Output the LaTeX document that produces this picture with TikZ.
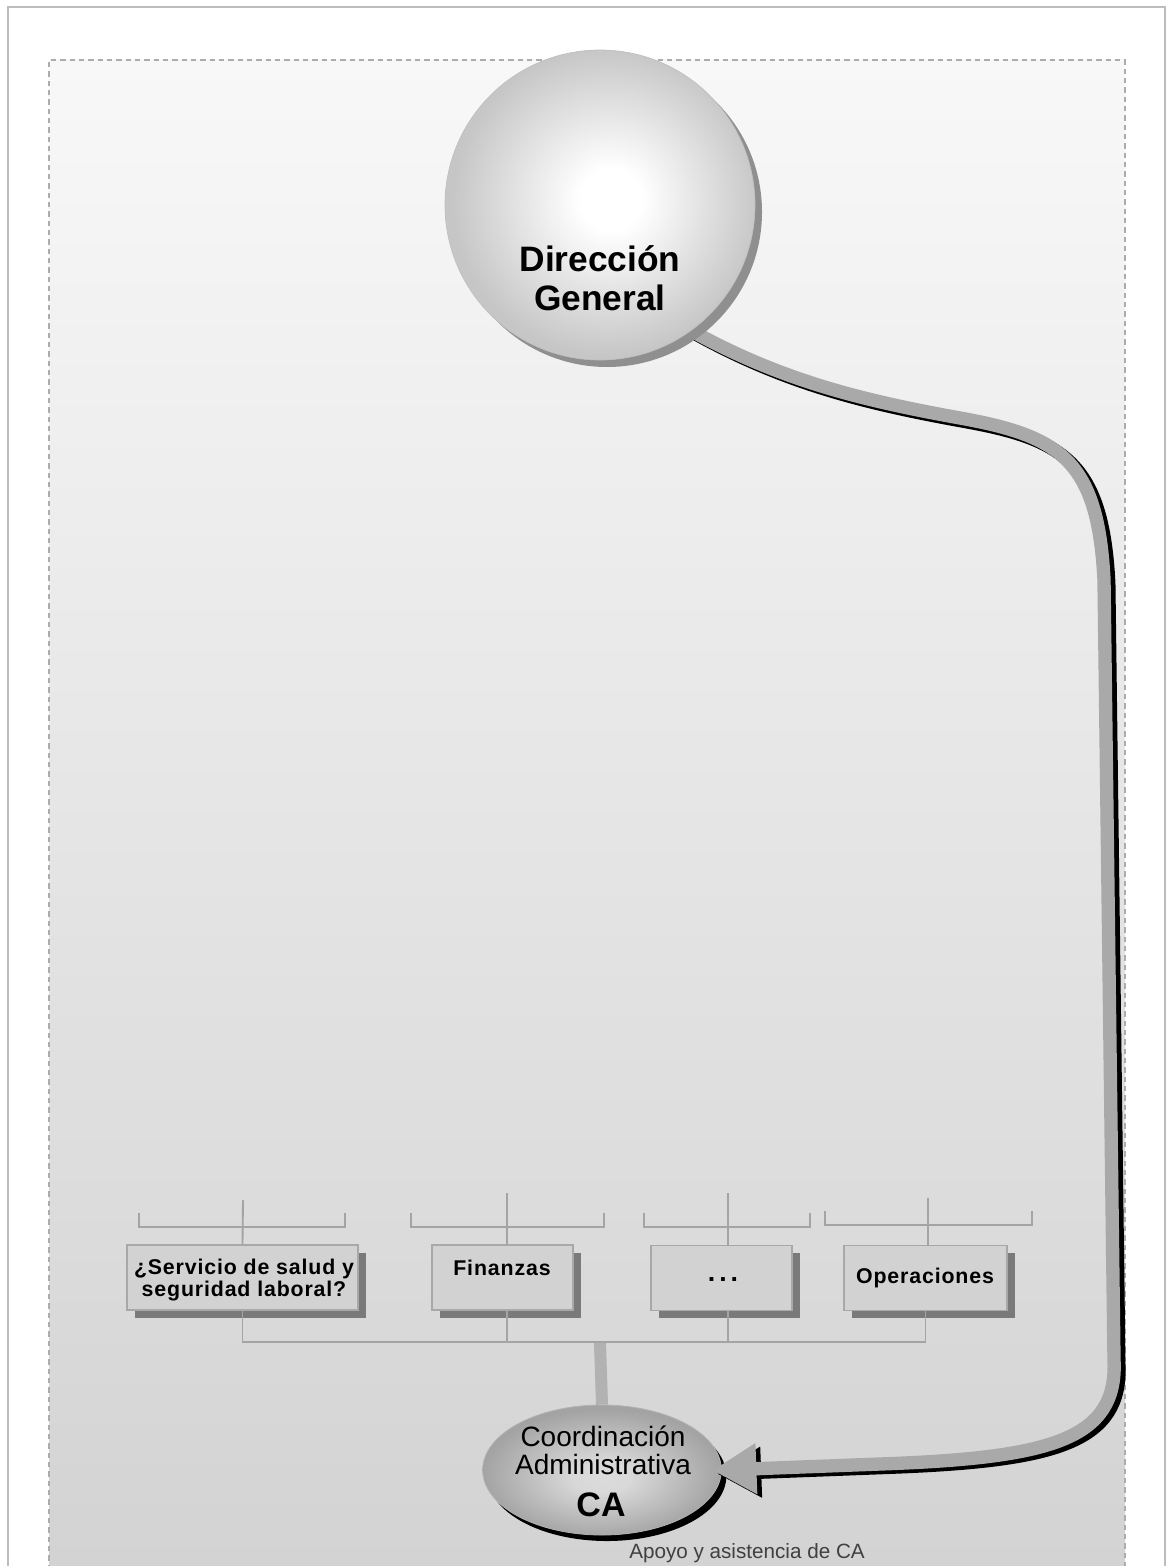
\documentclass[tikz,border=0pt]{standalone}
\usepackage{fontspec}
\setmainfont{Liberation Sans}
\usetikzlibrary{shapes.geometric,arrows.meta}
\definecolor{bgtop}{HTML}{F8F8F8}
\definecolor{bgbot}{HTML}{D3D3D3}
\definecolor{boxfill}{HTML}{D2D2D2}
\definecolor{boxedge}{HTML}{A8A8A8}
\definecolor{shadowgray}{HTML}{7A7A7A}
\definecolor{linegray}{HTML}{A4A4A4}
\definecolor{bandgray}{HTML}{A9A9A9}
\definecolor{stemgray}{HTML}{B2B2B2}
\definecolor{framegray}{HTML}{BDBDBD}
\pgfdeclareradialshading{dgshade}{\pgfpoint{2bp}{1bp}}{color(0bp)=(white); color(5bp)=(white); color(25bp)=(gray!45); color(50bp)=(gray!45)}
\pgfdeclareradialshading{cashade}{\pgfpoint{0bp}{-3bp}}{color(0bp)=(gray!28); color(6bp)=(gray!30); color(25bp)=(gray!72); color(50bp)=(gray!72)}
\tikzset{
  bus/.style={draw=linegray, line width=1.4pt},
  orgbox/.style={rectangle, draw=boxedge, line width=1pt, fill=boxfill, inner sep=0pt},
  boxshadow/.style={rectangle, fill=shadowgray, draw=none, inner sep=0pt},
  boxtext/.style={font=\bfseries\fontsize{16}{17}\selectfont\addfontfeatures{LetterSpace=4}, align=center, inner sep=0pt},
  band/.style={line width=10pt, draw=bandgray, -{Triangle[length=33pt,width=36pt]}, shorten >=-7pt},
  bandshadow/.style={line width=10pt, draw=black, -{Triangle[length=33pt,width=36pt]}, shorten >=-7pt},
}
\begin{document}
\begin{tikzpicture}[x=0.75pt, y=-0.75pt]
\useasboundingbox (0,0) rectangle (1167,1566);
% outer frame
\draw[framegray, line width=1.2pt] (8,1580) -- (8,7) -- (1165,7) -- (1165,1580);
% background panel
\shade[top color=bgtop, bottom color=bgbot] (49,60) rectangle (1125,1566);
\draw[gray!65, line width=0.8pt, dash pattern=on 4pt off 3pt] (49,1570) -- (49,60) -- (1125,60) -- (1125,1570);

% CA ellipse
\node[ellipse, fill=black, minimum width=179pt, minimum height=97.5pt, inner sep=0pt] (CAs) at (607,1476) {};
\node[ellipse, shading=cashade, draw=gray!60, line width=0.6pt, minimum width=179pt, minimum height=97.5pt, inner sep=0pt] (CA) at (602,1470) {};

\coordinate (dgc) at (600,205);
% band (drawn before the circle so it emerges from behind it)
\draw[bandshadow, transform canvas={xshift=3.6pt, yshift=-2.6pt}]
  (690,330) .. controls (780,380) and (860,400) .. (960,418)
  .. controls (1060,436) and (1098,460) .. (1104,580)
  -- (1114,1360) .. controls (1118,1440) and (1050,1458) .. (880,1464)
  -- (CA.east);
\draw[band]
  (690,330) .. controls (780,380) and (860,400) .. (960,418)
  .. controls (1060,436) and (1098,460) .. (1104,580)
  -- (1114,1360) .. controls (1118,1440) and (1050,1458) .. (880,1464)
  -- (CA.east);

% Direccion General
\node[circle, fill=gray!88, minimum size=232.5pt, inner sep=0pt] (DGs) at (607,212) {};
\node[circle, shading=dgshade, draw=gray!50, line width=0.5pt, minimum size=232.5pt, inner sep=0pt] (DG) at (dgc) {};
\node[font=\bfseries\fontsize{26.5}{29.25}\selectfont, align=center, inner sep=0pt] (DGt) at (600,278) {Dirección\\General};

% CA texts
\node[font=\fontsize{21}{19}\selectfont, inner sep=0pt, anchor=base, text depth=0pt] (CAt1) at (603,1446) {Coordinación};
\node[font=\fontsize{21}{19}\selectfont, inner sep=0pt, anchor=base, text height=14.5pt] (CAt2) at (603,1474) {Administrativa};
\node[font=\bfseries\fontsize{25.5}{28}\selectfont, inner sep=0pt] (CAa) at (601,1505) {CA};

% org boxes
\node[boxshadow, minimum width=173.25pt, minimum height=48.75pt] (B1s) at (250,1285) {};
\node[orgbox, minimum width=173.25pt, minimum height=48.75pt] (B1) at (242.5,1277.5) {};
\node[boxshadow, minimum width=105.75pt, minimum height=48.75pt] (B2s) at (510,1285) {};
\node[orgbox, minimum width=105.75pt, minimum height=48.75pt] (B2) at (502.5,1277.5) {};
\node[boxshadow, minimum width=105.75pt, minimum height=48.75pt] (B3s) at (729,1285.5) {};
\node[orgbox, minimum width=105.75pt, minimum height=48.75pt] (B3) at (721.5,1278) {};
\node[boxshadow, minimum width=122.25pt, minimum height=48.75pt] (B4s) at (933,1285.5) {};
\node[orgbox, minimum width=122.25pt, minimum height=48.75pt] (B4) at (925.5,1278) {};

\node[boxtext] (B1t) at (244,1280) {¿Servicio de salud y\\seguridad laboral?};
\node[boxtext] (B2t) at (502,1268) {Finanzas};
\node[font=\bfseries\fontsize{20}{20}\selectfont, inner sep=0pt] (B3t) at (723,1279) {.\kern3pt.\kern3pt.};
\node[boxtext] (B4t) at (925,1278) {Operaciones};

% brackets above the boxes
\draw[bus] (139,1213) -- (139,1227) -- (345,1227) -- (345,1213);
\draw[bus] (243,1200) -- (B1.north);
\draw[bus] (411,1213) -- (411,1227) -- (604,1227) -- (604,1213);
\draw[bus] (507,1193) -- (B2.north -| 507,0);
\draw[bus] (644,1213) -- (644,1227) -- (810,1227) -- (810,1213);
\draw[bus] (728,1193) -- (B3.north -| 728,0);
\draw[bus] (825,1211) -- (825,1225) -- (1032,1225) -- (1032,1211);
\draw[bus] (928,1198) -- (B4.north -| 928,0);

% bus below the boxes
\coordinate (bus) at (600,1342);
\draw[bus] (B1.south) |- (bus) -| (B4.south);
\draw[bus] (B2.south -| 507,0) -- (507,1342);
\draw[bus] (B3.south -| 728,0) -- (728,1342);
\draw[stemgray, line width=9pt] (600,1343) -- (CA.north);

% caption
\node[font=\fontsize{15.5}{18}\selectfont, text=black!75, inner sep=0pt] (cap) at (747,1553) {Apoyo y asistencia de CA};
\end{tikzpicture}
\end{document}
